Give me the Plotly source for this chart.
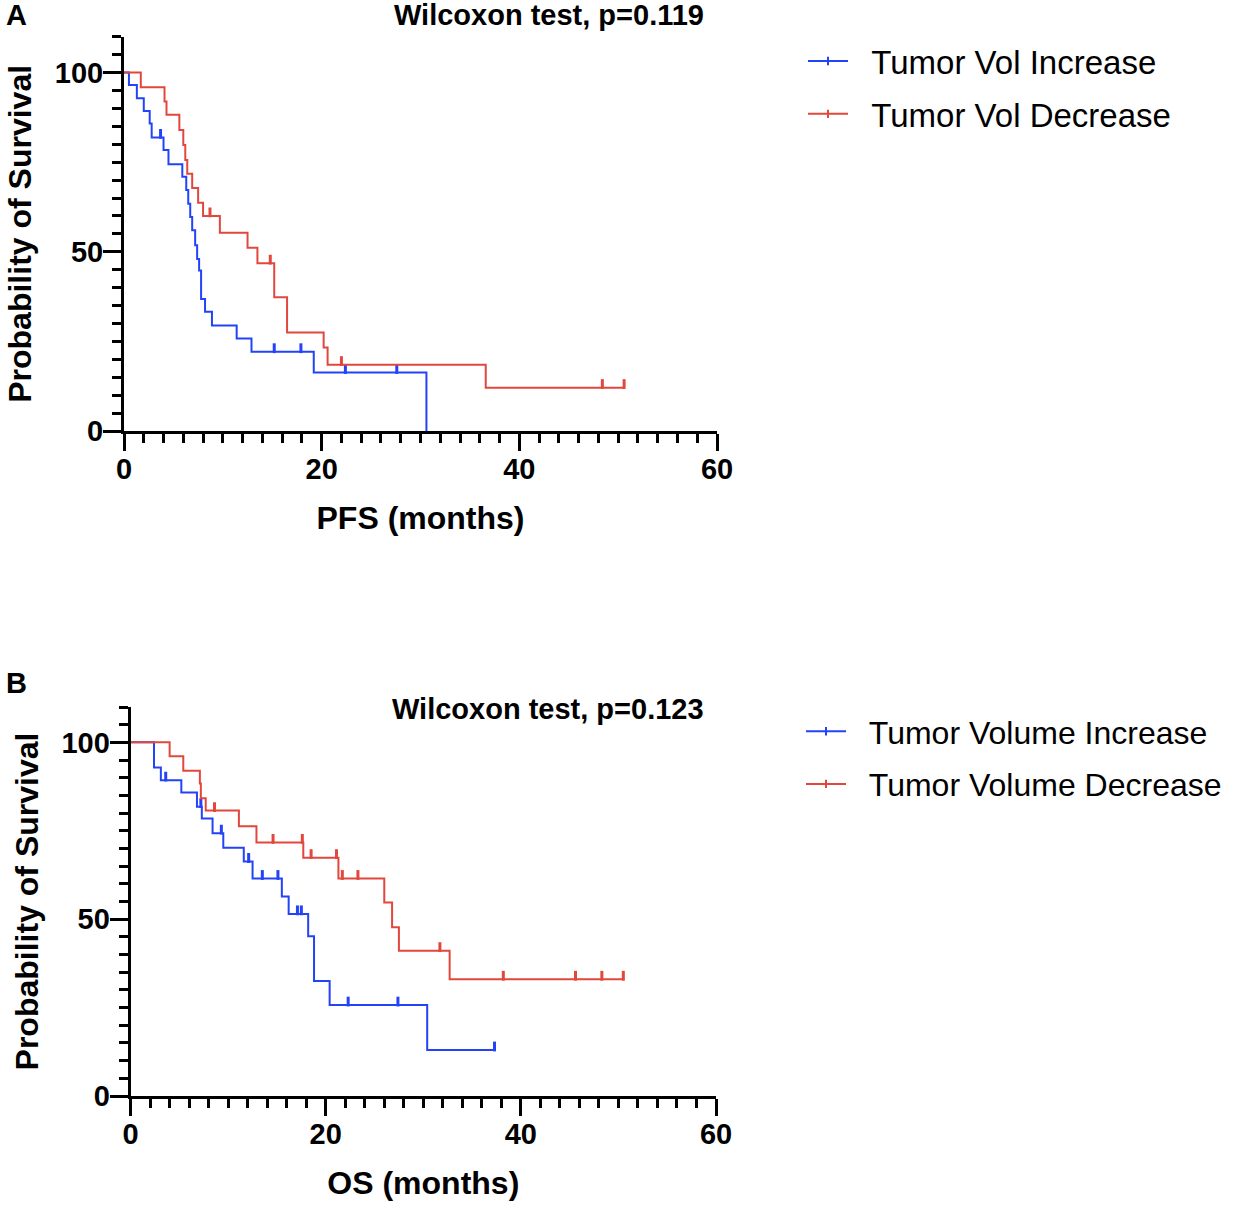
import numpy as np
import plotly.graph_objects as go

# Kaplan-Meier curves (months, % surviving after each drop)
pfs_inc_t = [0.5, 1.3, 2.0, 2.6, 2.8, 4.0, 4.5, 5.9, 6.3, 6.5, 6.7, 6.9, 7.2, 7.4, 7.6, 7.8, 8.2, 8.9, 11.4, 12.9, 19.2, 30.6]
pfs_inc_s = [96.5, 92.8, 89.3, 85.8, 81.9, 78.4, 74.4, 70.9, 67.2, 63.4, 59.7, 56.0, 51.8, 48.0, 44.8, 36.8, 33.3, 29.4, 25.8, 22.1, 16.3, 0.0]
pfs_inc_cens = [3.7, 15.2, 17.9, 22.4, 27.6]
pfs_inc_end = 30.6

pfs_dec_t = [1.7, 4.1, 4.3, 5.6, 6.0, 6.2, 6.4, 6.9, 7.5, 8.0, 9.7, 12.5, 13.5, 15.2, 16.5, 20.2, 20.6, 36.6]
pfs_dec_s = [95.9, 91.9, 88.2, 84.0, 79.8, 75.6, 71.8, 67.8, 63.7, 60.0, 55.3, 51.1, 46.8, 37.3, 27.5, 23.3, 18.5, 12.1]
pfs_dec_cens = [8.7, 14.8, 22.0, 48.4, 50.6]
pfs_dec_end = 50.6

os_inc_t = [2.4, 3.1, 5.2, 6.8, 7.3, 8.4, 9.5, 11.6, 12.5, 15.5, 16.2, 18.2, 18.8, 20.4, 30.4]
os_inc_s = [92.9, 89.3, 85.8, 81.8, 78.5, 74.3, 70.2, 66.3, 61.5, 56.4, 51.5, 45.2, 32.5, 25.7, 13.0]
os_inc_cens = [3.6, 7.2, 9.3, 12.1, 13.5, 15.1, 17.1, 17.5, 22.3, 27.4, 37.3]
os_inc_end = 37.3

os_dec_t = [4.0, 5.4, 7.1, 7.2, 7.7, 11.1, 12.9, 17.7, 21.3, 26.0, 26.8, 27.5, 32.7]
os_dec_s = [96.1, 92.0, 88.4, 84.2, 80.7, 76.3, 71.7, 67.4, 61.5, 54.7, 47.7, 41.1, 33.0]
os_dec_cens = [8.6, 14.6, 17.6, 18.5, 21.1, 21.7, 23.3, 31.7, 38.2, 45.6, 48.3, 50.5]
os_dec_end = 50.6

BLUE = "#2343f8"
RED = "#e2473d"
FONT = "Arial, Liberation Sans, sans-serif"
W, H = 1237, 1211
SP = "\u00a0\u00a0"


def px(x):
    return x / W


def py(y):
    return 1 - y / H


def step_xy(t, s, end):
    return [0] + list(t) + [end], [100] + list(s) + [s[-1]]


def surv_at(t, s, times):
    idx = np.searchsorted(np.array(t), np.array(times), side="right")
    full = np.concatenate([[100.0], s])
    return full[idx]


fig = go.Figure()


def add_group(t, s, cens, end, color, name, xa, ya, legend):
    x, y = step_xy(t, s, end)
    fig.add_trace(go.Scatter(x=x, y=y, mode="lines", line=dict(color=color, width=2, shape="hv"),
                             xaxis=xa, yaxis=ya, showlegend=False, hoverinfo="skip"))
    cy = surv_at(t, s, cens) + 1.0
    fig.add_trace(go.Scatter(x=cens, y=cy, mode="markers",
                             marker=dict(symbol="line-ns", size=7, line=dict(color=color, width=3)),
                             xaxis=xa, yaxis=ya, showlegend=False, hoverinfo="skip"))
    # legend entry: line with a tick
    fig.add_trace(go.Scatter(x=[None], y=[None], mode="lines+markers", name=SP + name,
                             line=dict(color=color, width=2),
                             marker=dict(symbol="line-ns", size=6, line=dict(color=color, width=2)),
                             xaxis=xa, yaxis=ya, legend=legend, legendgroup=name))


add_group(pfs_inc_t, pfs_inc_s, pfs_inc_cens, pfs_inc_end, BLUE, "Tumor Vol Increase", "x", "y", "legend")
add_group(pfs_dec_t, pfs_dec_s, pfs_dec_cens, pfs_dec_end, RED, "Tumor Vol Decrease", "x", "y", "legend")
add_group(os_inc_t, os_inc_s, os_inc_cens, os_inc_end, BLUE, "Tumor Volume Increase", "x2", "y2", "legend2")
add_group(os_dec_t, os_dec_s, os_dec_cens, os_dec_end, RED, "Tumor Volume Decrease", "x2", "y2", "legend2")

tickfont = dict(family=FONT, size=29, color="black")
titlefont = dict(family=FONT, size=32, color="black")


def xaxis(domain, anchor, title):
    return dict(domain=domain, anchor=anchor, range=[0, 60], tickmode="linear", tick0=0, dtick=20,
                showline=True, linecolor="black", linewidth=3, ticks="outside", ticklen=17,
                tickwidth=3, tickcolor="black", showgrid=False, zeroline=False, automargin=False,
                tickfont=tickfont, tickprefix="<b>", ticksuffix="</b>", ticklabelstandoff=-7,
                minor=dict(tickmode="linear", tick0=0, dtick=2, ticks="outside", ticklen=9,
                           tickwidth=3, tickcolor="black", showgrid=False),
                title=dict(text="<b>" + title + "</b>", font=titlefont, standoff=23))


def yaxis(domain, anchor):
    return dict(domain=domain, anchor=anchor, range=[0, 110], tickmode="linear", tick0=0, dtick=50,
                showline=True, linecolor="black", linewidth=3, ticks="outside", ticklen=18,
                tickwidth=3, tickcolor="black", showgrid=False, zeroline=False, automargin=False,
                tickfont=tickfont, tickprefix="<b>", ticksuffix="</b>", ticklabelstandoff=-6,
                minor=dict(tickmode="linear", tick0=0, dtick=5, ticks="outside", ticklen=9,
                           tickwidth=3, tickcolor="black", showgrid=False),
                title=dict(text="<b>Probability of Survival</b>", font=dict(family=FONT, size=32, color="black"),
                           standoff=14))


fig.update_layout(
    width=W, height=H, margin=dict(l=0, r=0, t=0, b=0, autoexpand=False),
    paper_bgcolor="white", plot_bgcolor="white",
    xaxis=xaxis([px(124), px(717)], "y", "PFS (months)"),
    yaxis=yaxis([py(431), py(36.7)], "x"),
    xaxis2=xaxis([px(130.6), px(716)], "y2", "OS (months)"),
    yaxis2=yaxis([py(1096), py(707)], "x2"),
    legend=dict(x=px(803), y=py(33), xanchor="left", yanchor="top",
                font=dict(family=FONT, size=33, color="black"),
                bgcolor="rgba(0,0,0,0)", tracegroupgap=7, itemwidth=40),
    legend2=dict(x=px(801), y=py(704), xanchor="left", yanchor="top",
                 font=dict(family=FONT, size=32, color="black"),
                 bgcolor="rgba(0,0,0,0)", tracegroupgap=8, itemwidth=40),
    annotations=[
        dict(text="<b>A</b>", x=px(4), y=py(15), xref="paper", yref="paper", xanchor="left",
             yanchor="middle", showarrow=False, font=dict(family=FONT, size=29, color="black")),
        dict(text="<b>B</b>", x=px(4), y=py(683), xref="paper", yref="paper", xanchor="left",
             yanchor="middle", showarrow=False, font=dict(family=FONT, size=29, color="black")),
        dict(text="<b>Wilcoxon test, p=0.119</b>", x=px(706), y=py(15), xref="paper", yref="paper",
             xanchor="right", yanchor="middle", showarrow=False, font=dict(family=FONT, size=29, color="black")),
        dict(text="<b>Wilcoxon test, p=0.123</b>", x=px(706), y=py(709), xref="paper", yref="paper",
             xanchor="right", yanchor="middle", showarrow=False, font=dict(family=FONT, size=29, color="black")),
    ],
)

# drop the default page margin so the figure sits at the window's corner
fig.write_html("out.html", config={"displayModeBar": False},
               post_script="document.body.style.margin='0';")
